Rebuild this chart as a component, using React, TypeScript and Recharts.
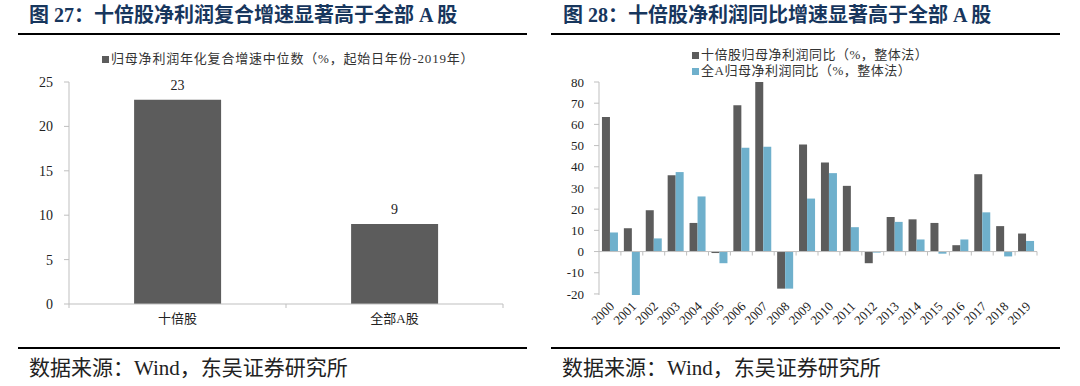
import { BarChart, Bar, XAxis, YAxis, LabelList, Legend, ReferenceLine } from 'recharts';

// left panel: median annualised growth
const medianCategories = ['十倍股', '全部A股'];
const medianValues = [23, 9];
const medianTicks = [0, 5, 10, 15, 20, 25];

// right panel: yearly growth
const years = [
  '2000', '2001', '2002', '2003', '2004', '2005', '2006', '2007', '2008', '2009',
  '2010', '2011', '2012', '2013', '2014', '2015', '2016', '2017', '2018', '2019',
];
const tenBaggerGrowth = [63.5, 11, 19.5, 36, 13.5, -0.7, 69, 80, -17.5, 50.5, 42, 31, -5.5, 16.3, 15.2, 13.5, 3, 36.5, 12, 8.5];
const allAGrowth = [9, -20.5, 6.2, 37.5, 26, -5.5, 49, 49.5, -17.5, 25, 37, 11.5, -0.5, 14, 5.7, -1, 5.7, 18.5, -2.3, 5];
const growthTicks = [-20, -10, 0, 10, 20, 30, 40, 50, 60, 70, 80];

const GRAY = '#5c5c5c';
const BLUE = '#6fb0cc';
const AXIS = '#bfbfbf';
const FONT = '"Liberation Serif", "Noto Sans CJK SC", serif';
const TITLE_COLOR = '#17365d';

const medianData = medianCategories.map((name, i) => ({ name, value: medianValues[i] }));
const growthData = years.map((year, i) => ({ year, ten: tenBaggerGrowth[i], all: allAGrowth[i] }));

function BoundaryTick(props: any) {
  const { x, y, payload, index, visibleTicksCount } = props;
  const half = payload?.offset ?? 0;
  const top = y - 10;
  return (
    <g>
      <line x1={x - half} y1={top} x2={x - half} y2={top + 4} stroke={AXIS} />
      {index === visibleTicksCount - 1 && (
        <line x1={x + half} y1={top} x2={x + half} y2={top + 4} stroke={AXIS} />
      )}
      <text x={x} y={y} dy="0.71em" textAnchor="middle" fontSize={13} fontFamily={FONT} fill="#222">
        {payload.value}
      </text>
    </g>
  );
}

function YearTick(props: any) {
  const { x, y, payload } = props;
  const ax = x + 2;
  return (
    <text
      x={ax}
      y={y}
      dy="0.35em"
      textAnchor="end"
      transform={`rotate(-45 ${ax} ${y})`}
      fontSize={13}
      fontFamily={FONT}
      fill="#222"
    >
      {payload.value}
    </text>
  );
}

function ZeroAxis(props: any) {
  const { x1, y1, x2 } = props;
  const step = (x2 - x1) / years.length;
  return (
    <g>
      <line x1={x1} y1={y1} x2={x2} y2={y1} stroke={AXIS} />
      {years.map((y, i) => (
        <line key={y} x1={x1 + step * (i + 1)} y1={y1} x2={x1 + step * (i + 1)} y2={y1 + 4} stroke={AXIS} />
      ))}
    </g>
  );
}

function LegendBox({ items, spacing = 0 }: { items: { label: string; color: string }[]; spacing?: number }) {
  return (
    <div style={{ fontFamily: FONT, fontSize: 13, color: '#333', lineHeight: '16px', letterSpacing: spacing }}>
      {items.map((it) => (
        <div key={it.label} style={{ display: 'flex', alignItems: 'center', whiteSpace: 'nowrap' }}>
          <span style={{ width: 7, height: 7, background: it.color, marginRight: 2, display: 'inline-block' }} />
          {it.label}
        </div>
      ))}
    </div>
  );
}

const yTick = { fontSize: 13, fontFamily: FONT, fill: '#222' };
const titleStyle = { position: 'absolute', top: 5, fontSize: 20, lineHeight: '20px', fontWeight: 'bold', color: TITLE_COLOR, whiteSpace: 'nowrap' } as const;
const sourceStyle = { position: 'absolute', top: 357, fontSize: 21, lineHeight: '22px', color: '#222', whiteSpace: 'nowrap' } as const;
const ruleStyle = { position: 'absolute', width: 509, height: 2, background: '#000' } as const;

export default function App() {
  return (
    <div style={{ position: 'absolute', left: 0, top: 0, width: 1080, height: 386, background: '#fff', fontFamily: FONT }}>
      <div style={{ ...titleStyle, left: 29 }}>图 27：十倍股净利润复合增速显著高于全部 A 股</div>
      <div style={{ ...titleStyle, left: 563 }}>图 28：十倍股净利润同比增速显著高于全部 A 股</div>
      <div style={{ ...ruleStyle, left: 18, top: 33 }} />
      <div style={{ ...ruleStyle, left: 551, top: 33 }} />
      <div style={{ ...ruleStyle, left: 18, top: 347 }} />
      <div style={{ ...ruleStyle, left: 551, top: 347 }} />
      <div style={{ ...sourceStyle, left: 29 }}>数据来源：Wind，东吴证券研究所</div>
      <div style={{ ...sourceStyle, left: 562 }}>数据来源：Wind，东吴证券研究所</div>

      <div style={{ position: 'absolute', left: 0, top: 0 }}>
        <BarChart width={540} height={386} data={medianData} margin={{ top: 82, right: 37, bottom: 52, left: 0 }} barCategoryGap="30%">
          <Legend
            verticalAlign="middle"
            wrapperStyle={{ position: 'absolute', top: 51, left: 102, width: 'auto' }}
            content={() => (
              <LegendBox spacing={0.8} items={[{ label: '归母净利润年化复合增速中位数（%，起始日年份-2019年）', color: GRAY }]} />
            )}
          />
          <XAxis dataKey="name" height={30} stroke={AXIS} tickLine={false} tickSize={0} tickMargin={10} tick={<BoundaryTick />} interval={0} />
          <YAxis width={69} domain={[0, 25]} ticks={medianTicks} stroke={AXIS} tickSize={5} tickMargin={11} tick={{ ...yTick, fontSize: 14 }} interval={0} />
          <Bar dataKey="value" fill={GRAY} isAnimationActive={false}>
            <LabelList dataKey="value" position="top" offset={10} style={{ fontSize: 14, fontFamily: FONT, fill: '#222' }} />
          </Bar>
        </BarChart>
      </div>

      <div style={{ position: 'absolute', left: 540, top: 0 }}>
        <BarChart width={540} height={386} data={growthData} margin={{ top: 82, right: 43, bottom: 46, left: 0 }} barCategoryGap="13.5%" barGap={0}>
          <Legend
            verticalAlign="middle"
            wrapperStyle={{ position: 'absolute', top: 47, left: 152, width: 'auto' }}
            content={() => (
              <LegendBox
                spacing={0.5}
                items={[
                  { label: '十倍股归母净利润同比（%，整体法）', color: GRAY },
                  { label: '全A归母净利润同比（%，整体法）', color: BLUE },
                ]}
              />
            )}
          />
          <XAxis dataKey="year" height={45} axisLine={false} tickLine={false} tickSize={0} tickMargin={9} tick={<YearTick />} interval={0} />
          <YAxis width={59} domain={[-20, 80]} ticks={growthTicks} stroke={AXIS} tickSize={5} tickMargin={10} tick={yTick} interval={0} />
          <Bar dataKey="ten" fill={GRAY} isAnimationActive={false} />
          <Bar dataKey="all" fill={BLUE} isAnimationActive={false} />
          <ReferenceLine y={0} shape={<ZeroAxis />} />
        </BarChart>
      </div>
    </div>
  );
}
